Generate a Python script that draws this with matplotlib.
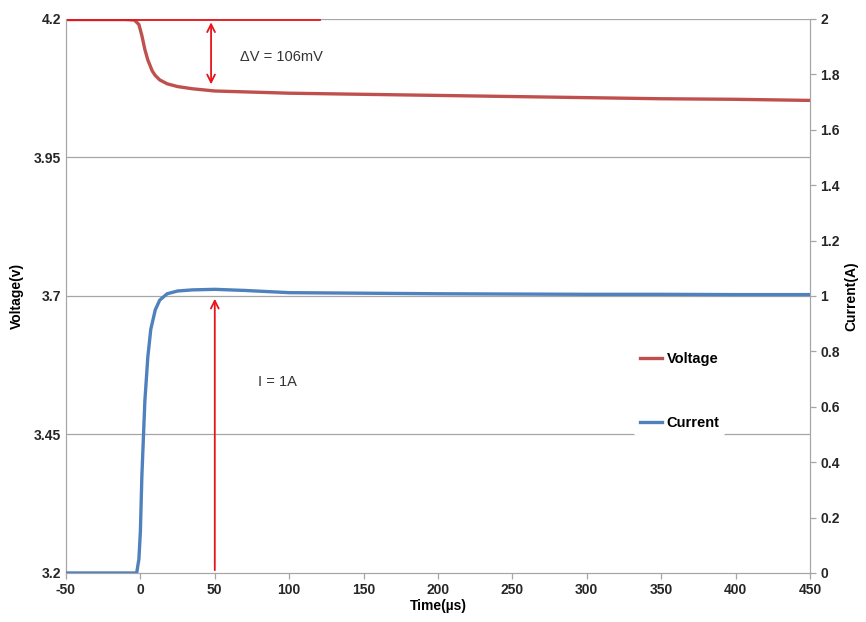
import matplotlib.pyplot as plt

# Data
time_v = [-50, -10, -4, -1, 1, 3, 5, 8, 10, 13, 18, 25, 35, 50, 100, 150, 200, 250, 300, 350, 400, 450]
voltage = [4.199, 4.199, 4.198, 4.19, 4.17, 4.145, 4.126, 4.106, 4.098, 4.09, 4.083, 4.078, 4.074,
           4.070, 4.066, 4.064, 4.062, 4.060, 4.058, 4.056, 4.055, 4.053]

time_i = [-50, -10, -2.5, -1, 0, 1, 3, 5, 7, 10, 13, 18, 25, 35, 50, 70, 100, 150, 200, 250,
          300, 350, 400, 450]
current = [0.0, 0.0, 0.0, 0.05, 0.15, 0.35, 0.62, 0.78, 0.88, 0.95, 0.985, 1.008, 1.018, 1.022,
           1.024, 1.02, 1.012, 1.01, 1.008, 1.007, 1.006, 1.006, 1.005, 1.005]

x_ticks = [-50, 0, 50, 100, 150, 200, 250, 300, 350, 400, 450]
v_ticks = [3.2, 3.45, 3.7, 3.95, 4.2]
v_tick_labels = ['3.2', '3.45', '3.7', '3.95', '4.2']
i_ticks = [0, 0.2, 0.4, 0.6, 0.8, 1, 1.2, 1.4, 1.6, 1.8, 2]
i_tick_labels = ['0', '0.2', '0.4', '0.6', '0.8', '1', '1.2', '1.4', '1.6', '1.8', '2']

ref_level = 4.199      # red reference line at the start voltage
ref_end = 121
dv_x = 47.5
dv_low = 4.077
i_arrow_x = 50

RED = '#C0504D'
BLUE = '#4F81BD'
ARROW = '#E8141B'
GRID = '#A6A6A6'

plt.rcParams['font.family'] = ['Liberation Sans', 'DejaVu Sans']
plt.rcParams['axes.unicode_minus'] = False

fig = plt.figure(figsize=(8.66, 6.22), dpi=100)
ax = fig.add_axes([0.0762, 0.0788, 0.8591, 0.8907])
ax2 = ax.twinx()

ax.set_xlim(-50, 450)
ax.set_ylim(3.2, 4.2)
ax2.set_ylim(0, 2)

for y in v_ticks[1:]:
    ax.axhline(y, color=GRID, lw=0.9, zorder=0)

l1, = ax.plot(time_v, voltage, color=RED, lw=2.4, label='Voltage', zorder=3)
l2, = ax2.plot(time_i, current, color=BLUE, lw=2.4, label='Current', zorder=3)

# annotations
ax.plot([-50, ref_end], [ref_level, ref_level], color=ARROW, lw=1.3, zorder=4)
ax.annotate('', xy=(dv_x, ref_level), xytext=(dv_x, dv_low),
            arrowprops=dict(arrowstyle='<->', color=ARROW, lw=1.3, mutation_scale=14))
ax.text(67, 4.131, '\u0394V = 106mV', fontsize=10.5, color='#333333', va='center')
ax2.annotate('', xy=(i_arrow_x, 1.0), xytext=(i_arrow_x, 0),
             arrowprops=dict(arrowstyle='->', color=ARROW, lw=1.3, mutation_scale=14))
ax2.text(79, 0.69, 'I = 1A', fontsize=10.5, color='#333333', va='center')

ax.set_xticks(x_ticks)
ax.set_yticks(v_ticks)
ax.set_yticklabels(v_tick_labels)
ax2.set_yticks(i_ticks)
ax2.set_yticklabels(i_tick_labels)

for a in (ax, ax2):
    for s in a.spines.values():
        s.set_color(GRID)
    a.tick_params(colors=GRID, labelcolor='#262626', labelsize=10, length=4, width=0.9)
    for lab in a.get_xticklabels() + a.get_yticklabels():
        lab.set_fontweight('bold')
ax.tick_params(axis='y', length=0)
ax.spines['top'].set_visible(False)
ax2.spines['top'].set_visible(False)

ax.set_xlabel('Time(\u00b5s)', fontsize=10, fontweight='bold', labelpad=1)
ax.set_ylabel('Voltage(v)', fontsize=10, fontweight='bold', labelpad=7)
ax2.set_ylabel('Current(A)', fontsize=10, fontweight='bold', labelpad=3)

leg = ax2.legend(handles=[l1, l2], loc='center', bbox_to_anchor=(0.825, 0.328),
                 frameon=True, handlelength=1.5, labelspacing=3.4, handletextpad=0.3,
                 prop={'weight': 'bold', 'size': 10.5})
leg.get_frame().set_edgecolor('none')
leg.get_frame().set_facecolor('white')
leg.get_frame().set_alpha(1)

fig.savefig('out.png', dpi=100, facecolor='white')
